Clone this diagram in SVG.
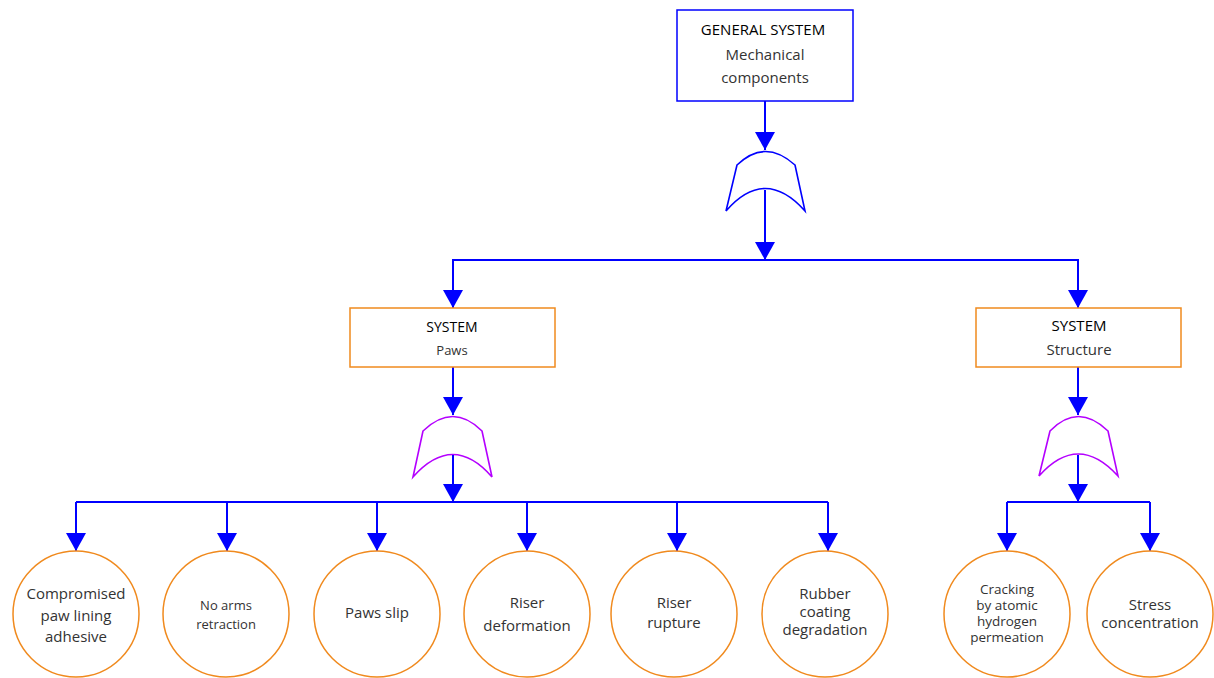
<svg xmlns="http://www.w3.org/2000/svg" width="1214" height="678" viewBox="0 0 1214 678">
<style>
.ln{stroke:#0000ff;stroke-width:2;fill:none}
.box{fill:#fff;stroke-width:1.5}
.cir{fill:#fff;stroke:#f08a1e;stroke-width:1.5}
.gate{fill:#fff;stroke-width:1.6}
text{font-family:"Open Sans","Liberation Sans",sans-serif;fill:#333;text-anchor:middle}
.t{font-size:15px}
.s{font-size:13px}
.c{font-size:13.5px}
.h{font-size:15px;fill:#000}
</style>
<defs>
<marker id="ah" markerUnits="userSpaceOnUse" markerWidth="20" markerHeight="20" viewBox="0 0 18 20" refX="18" refY="10" orient="auto">
<path d="M0,0 L18,10 L0,20 z" fill="#0000ff"/>
</marker>
</defs>
<g id="connectors">
<line class="ln" x1="765" y1="101" x2="765" y2="150" marker-end="url(#ah)"/>
<line class="ln" x1="765" y1="190" x2="765" y2="260" marker-end="url(#ah)"/>
<polyline class="ln" points="453,308 453,260 1078,260 1078,308"/>
<line class="ln" x1="453" y1="260" x2="453" y2="308" marker-end="url(#ah)"/>
<line class="ln" x1="1078" y1="260" x2="1078" y2="308" marker-end="url(#ah)"/>
<line class="ln" x1="453" y1="367" x2="453" y2="415" marker-end="url(#ah)"/>
<line class="ln" x1="453" y1="455" x2="453" y2="502" marker-end="url(#ah)"/>
<line class="ln" x1="1078" y1="367" x2="1078" y2="415" marker-end="url(#ah)"/>
<line class="ln" x1="1078" y1="455" x2="1078" y2="502" marker-end="url(#ah)"/>
<line class="ln" x1="76" y1="502" x2="828" y2="502"/>
<line class="ln" x1="1007" y1="502" x2="1150" y2="502"/>
<line class="ln" x1="76" y1="502" x2="76" y2="551" marker-end="url(#ah)"/>
<line class="ln" x1="227" y1="502" x2="227" y2="551" marker-end="url(#ah)"/>
<line class="ln" x1="377" y1="502" x2="377" y2="551" marker-end="url(#ah)"/>
<line class="ln" x1="527" y1="502" x2="527" y2="551" marker-end="url(#ah)"/>
<line class="ln" x1="677" y1="502" x2="677" y2="551" marker-end="url(#ah)"/>
<line class="ln" x1="828" y1="502" x2="828" y2="551" marker-end="url(#ah)"/>
<line class="ln" x1="1007" y1="502" x2="1007" y2="551" marker-end="url(#ah)"/>
<line class="ln" x1="1150" y1="502" x2="1150" y2="551" marker-end="url(#ah)"/>
</g>
<g id="top">
<rect class="box" x="677" y="10" width="176" height="91" stroke="#0000ff"/>
<text class="h" x="763" y="35">GENERAL SYSTEM</text>
<text class="t" x="765" y="60">Mechanical</text>
<text class="t" x="765" y="83">components</text>
</g>
<g id="gate-top">
<path class="gate" stroke="#0000ff" d="M726,211 L737,165 Q765,138 795,165 L805,211 Q765,166 726,211 Z"/>
<line class="ln" x1="765" y1="190" x2="765" y2="244"/>
</g>
<g id="paws">
<rect class="box" x="350" y="308" width="205" height="59" stroke="#f08a1e"/>
<text class="h" x="452" y="332" style="font-size:14px">SYSTEM</text>
<text class="s" x="452" y="355">Paws</text>
</g>
<g id="structure">
<rect class="box" x="976" y="308" width="205" height="59" stroke="#f08a1e"/>
<text class="h" x="1079" y="331">SYSTEM</text>
<text class="t" x="1079" y="355">Structure</text>
</g>
<g id="gate-paws">
<path class="gate" stroke="#b400ff" d="M413,477 L423,431 Q453,402 482,431 L492,477 Q453,432 413,477 Z"/>
<line class="ln" x1="453" y1="455" x2="453" y2="486"/>
</g>
<g id="gate-structure">
<path class="gate" stroke="#b400ff" d="M1039,476 L1050,431 Q1078,402 1108,431 L1118,476 Q1078,432 1039,476 Z"/>
<line class="ln" x1="1078" y1="455" x2="1078" y2="486"/>
</g>
<g id="e1">
<circle class="cir" cx="76" cy="614" r="63"/>
<text class="t" x="76" y="599">Compromised</text>
<text class="t" x="76" y="621">paw lining</text>
<text class="t" x="76" y="642">adhesive</text>
</g>
<g id="e2">
<circle class="cir" cx="226" cy="614" r="63"/>
<text class="s" x="226" y="610">No arms</text>
<text class="s" x="226" y="629">retraction</text>
</g>
<g id="e3">
<circle class="cir" cx="377" cy="614" r="63"/>
<text class="t" x="377" y="618">Paws slip</text>
</g>
<g id="e4">
<circle class="cir" cx="527" cy="614" r="63"/>
<text class="t" x="527" y="608">Riser</text>
<text class="t" x="527" y="631">deformation</text>
</g>
<g id="e5">
<circle class="cir" cx="674" cy="614" r="63"/>
<text class="t" x="674" y="608">Riser</text>
<text class="t" x="674" y="628">rupture</text>
</g>
<g id="e6">
<circle class="cir" cx="825" cy="614" r="63"/>
<text class="t" x="825" y="599">Rubber</text>
<text class="t" x="825" y="617">coating</text>
<text class="t" x="825" y="635">degradation</text>
</g>
<g id="e7">
<circle class="cir" cx="1007" cy="614" r="63"/>
<text class="c" x="1007" y="594">Cracking</text>
<text class="c" x="1007" y="610">by atomic</text>
<text class="c" x="1007" y="626">hydrogen</text>
<text class="c" x="1007" y="642">permeation</text>
</g>
<g id="e8">
<circle class="cir" cx="1150" cy="614" r="63"/>
<text class="t" x="1150" y="610">Stress</text>
<text class="t" x="1150" y="628">concentration</text>
</g>
</svg>
